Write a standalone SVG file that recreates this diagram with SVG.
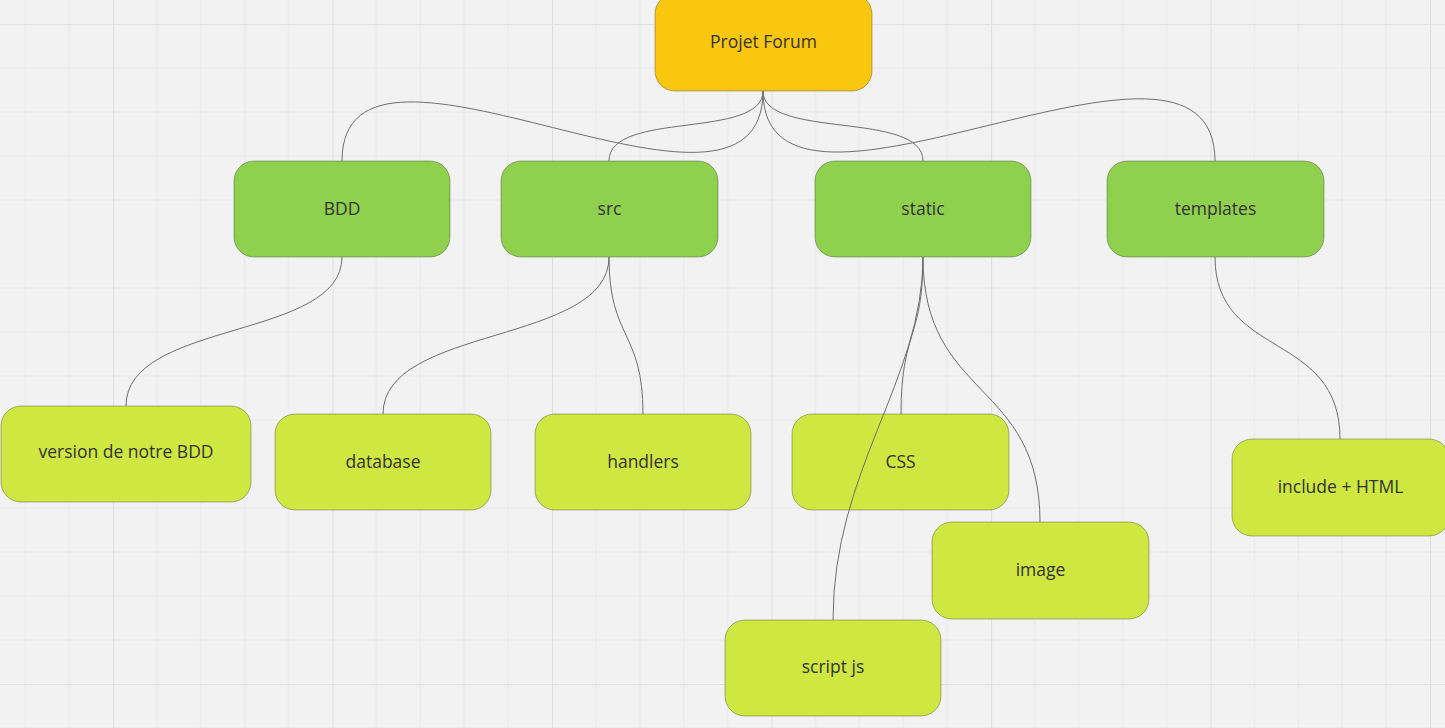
<svg xmlns="http://www.w3.org/2000/svg" width="1445" height="728" viewBox="0 0 1445 728">
<defs>
<pattern id="grid" patternUnits="userSpaceOnUse" x="113" y="24" width="219.5" height="220">
<g stroke="#e8e8e8" stroke-width="1">
<line x1="43.9" y1="0" x2="43.9" y2="220"/><line x1="87.8" y1="0" x2="87.8" y2="220"/><line x1="131.7" y1="0" x2="131.7" y2="220"/><line x1="175.6" y1="0" x2="175.6" y2="220"/>
<line x1="0" y1="44" x2="219.5" y2="44"/><line x1="0" y1="88" x2="219.5" y2="88"/><line x1="0" y1="132" x2="219.5" y2="132"/><line x1="0" y1="176" x2="219.5" y2="176"/>
</g>
<g stroke="#e0e0e0" stroke-width="1.2">
<line x1="0.5" y1="0" x2="0.5" y2="220"/><line x1="0" y1="0.5" x2="219.5" y2="0.5"/>
</g>
</pattern>
<style>
.n rect{stroke:rgba(0,0,0,0.28);stroke-width:1}
.root rect{fill:#fac710}
.l1 rect{fill:#8fd14f}
.l2 rect{fill:#cee741}
text{font-family:"Open Sans","Noto Sans","Liberation Sans",sans-serif;font-size:17.5px;fill:#333;text-anchor:middle;dominant-baseline:central}
.c path{fill:none;stroke:#6e6e6e;stroke-width:1}
</style>
</defs>
<rect x="0" y="0" width="1445" height="728" fill="#f2f2f2"/>
<rect x="0" y="0" width="1445" height="728" fill="url(#grid)"/>
<g id="projet-forum" class="n root"><rect x="655" y="-6" width="217" height="97" rx="20"/><text x="763.5" y="40.5">Projet Forum</text></g>
<g id="bdd" class="n l1"><rect x="234" y="161" width="216" height="96" rx="20"/><text x="342" y="207.5">BDD</text></g>
<g id="src" class="n l1"><rect x="501" y="161" width="217" height="96" rx="20"/><text x="609.5" y="207.5">src</text></g>
<g id="static" class="n l1"><rect x="815" y="161" width="216" height="96" rx="20"/><text x="923" y="207.5">static</text></g>
<g id="templates" class="n l1"><rect x="1107" y="161" width="217" height="96" rx="20"/><text x="1215.5" y="207.5">templates</text></g>
<g id="version" class="n l2"><rect x="1" y="406" width="250" height="96" rx="20"/><text x="126" y="450.5">version de notre BDD</text></g>
<g id="database" class="n l2"><rect x="275" y="414" width="216" height="96" rx="20"/><text x="383" y="460.5">database</text></g>
<g id="handlers" class="n l2"><rect x="535" y="414" width="216" height="96" rx="20"/><text x="643" y="460.5">handlers</text></g>
<g id="css" class="n l2"><rect x="792" y="414" width="217" height="96" rx="20"/><text x="900.5" y="460.5">CSS</text></g>
<g id="image" class="n l2"><rect x="932" y="522" width="217" height="97" rx="20"/><text x="1040.5" y="568.5">image</text></g>
<g id="script-js" class="n l2"><rect x="725" y="620" width="216" height="96" rx="20"/><text x="833" y="666">script js</text></g>
<g id="include-html" class="n l2"><rect x="1232" y="439" width="217" height="97" rx="20"/><text x="1340.5" y="485.5">include + HTML</text></g>
<g class="c" id="connectors">
<path d="M763,91 C763,268 342,-12 342,161"/>
<path d="M763,91 C763,140 609,110 609,161"/>
<path d="M763,91 C763,140 923,110 923,161"/>
<path d="M763,91 C763,270 1215,-20 1215,161"/>
<path d="M342,257 C342,340 126,320 126,406"/>
<path d="M609,257 C609,345 383,325 383,414"/>
<path d="M609,257 C609,340 643,330 643,414"/>
<path d="M923,257 C923,340 901,330 901,414"/>
<path d="M923,257 C923,400 1040,380 1040,522"/>
<path d="M923,257 C923,380 833,470 833,620"/>
<path d="M1215,257 C1215,360 1340,330 1340,439"/>
</g>
</svg>
